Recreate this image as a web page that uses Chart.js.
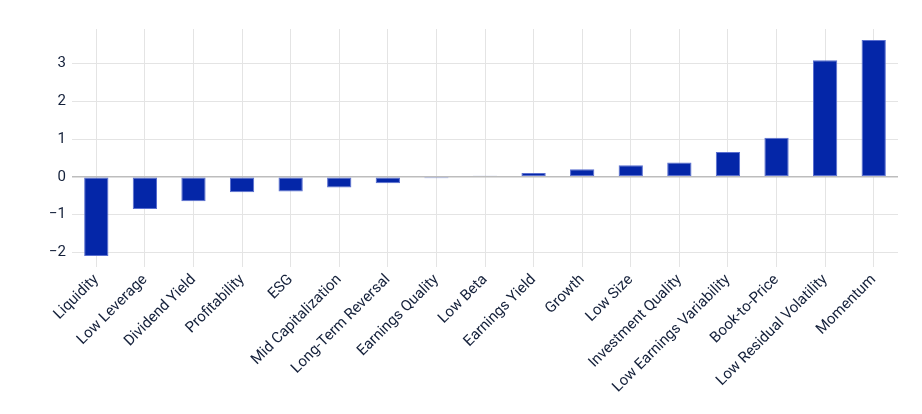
<!DOCTYPE html>
<html>
<head>
<meta charset="utf-8">
<script src="https://cdn.jsdelivr.net/npm/chart.js@4"></script>
<style>
  html, body { margin: 0; padding: 0; background: #ffffff; }
  #wrap { width: 922px; height: 414px; }
</style>
</head>
<body>
<div id="wrap"><canvas id="grafico"></canvas></div>
<script>
// dados
const categorias = ['Liquidity', 'Low Leverage', 'Dividend Yield', 'Profitability', 'ESG',
    'Mid Capitalization', 'Long-Term Reversal', 'Earnings Quality', 'Low Beta', 'Earnings Yield',
    'Growth', 'Low Size', 'Investment Quality', 'Low Earnings Variability', 'Book-to-Price',
    'Low Residual Volatility', 'Momentum'];
const valores = [-2.10, -0.85, -0.65, -0.41, -0.39, -0.28, -0.17, -0.04, 0.03, 0.10,
    0.20, 0.31, 0.38, 0.66, 1.04, 3.09, 3.63];
const ticksY = [-2, -1, 0, 1, 2, 3];

const corTexto = '#14203a';
const fonte = { family: 'Roboto, "Noto Sans", sans-serif', size: 15 };

new Chart(document.getElementById('grafico'), {
    type: 'bar',
    data: {
        labels: categorias,
        datasets: [{
            data: valores,
            backgroundColor: '#0426a8',
            borderColor: '#5a6fd0',
            borderWidth: 1,
            borderSkipped: false,
            barPercentage: 0.5,
            categoryPercentage: 1.0
        }]
    },
    options: {
        responsive: true,
        maintainAspectRatio: false,
        animation: false,
        layout: { padding: { top: 29, right: 24, bottom: 0, left: 0 } },
        plugins: {
            legend: { display: false },
            tooltip: { enabled: false }
        },
        scales: {
            x: {
                grid: { offset: false, color: '#e4e4e4', lineWidth: 1, drawTicks: false },
                border: { display: false },
                ticks: { color: corTexto, font: fonte, minRotation: 45, maxRotation: 45, padding: 4, autoSkip: false },
                afterFit: (scale) => { scale.height = 147; }
            },
            y: {
                min: -2.39,
                max: 3.92,
                grid: {
                    color: (ctx) => ctx.tick && ctx.tick.value === 0 ? '#bdbdbd' : '#e4e4e4',
                    lineWidth: (ctx) => ctx.tick && ctx.tick.value === 0 ? 1.5 : 1,
                    drawTicks: false
                },
                border: { display: false },
                ticks: {
                    color: corTexto,
                    font: fonte,
                    padding: 6,
                    callback: (v) => v < 0 ? '\u2212' + Math.abs(v) : String(v)
                },
                afterBuildTicks: (scale) => {
                    scale.ticks = ticksY.map(v => ({ value: v }));
                },
                afterFit: (scale) => { scale.width = 72; }
            }
        }
    }
});
</script>
</body>
</html>
